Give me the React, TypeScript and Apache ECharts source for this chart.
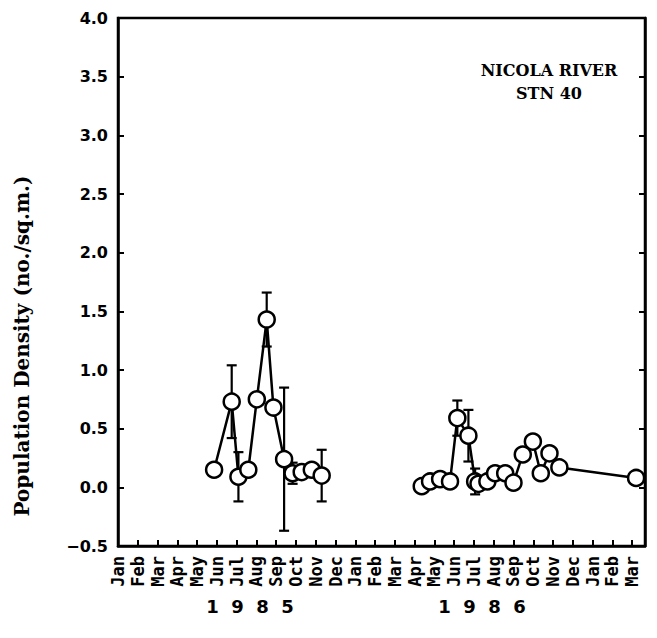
import React, { useEffect, useRef } from "react";
import * as echarts from "echarts";

// Month tick labels (index 0 = Jan 1985)
const monthLabels = [
  "Jan", "Feb", "Mar", "Apr", "May", "Jun", "Jul", "Aug", "Sep", "Oct", "Nov", "Dec",
  "Jan", "Feb", "Mar", "Apr", "May", "Jun", "Jul", "Aug", "Sep", "Oct", "Nov", "Dec",
  "Jan", "Feb", "Mar",
];
const yearLabels = ["1  9  8  5", "1  9  8  6"];
const yAxisTitle = "Population Density (no./sq.m.)";
const stationLines = ["NICOLA RIVER", "STN 40"];

// 1985 samples (x in months since Jan 1985)
const x1985 = [4.86, 5.75, 6.09, 6.59, 7.02, 7.52, 7.86, 8.4, 8.83, 9.29, 9.8, 10.3];
const y1985 = [0.15, 0.73, 0.09, 0.15, 0.75, 1.43, 0.68, 0.24, 0.12, 0.13, 0.15, 0.1];
const e1985 = [0, 0.31, 0.21, 0, 0, 0.23, 0, 0.61, 0.09, 0, 0, 0.22];

// 1986-87 samples
const x1986 = [15.36, 15.78, 16.29, 16.79, 17.16, 17.72, 18.06, 18.23, 18.68, 19.07, 19.58, 20.0, 20.47, 20.98, 21.38, 21.82, 22.32, 26.2];
const y1986 = [0.01, 0.05, 0.07, 0.05, 0.59, 0.44, 0.05, 0.03, 0.05, 0.12, 0.12, 0.04, 0.28, 0.39, 0.12, 0.29, 0.17, 0.08];
const e1986 = [0, 0, 0, 0, 0.15, 0.22, 0.11, 0, 0, 0, 0, 0, 0, 0, 0, 0, 0, 0];

const FONT = "DejaVu Sans";
const MONO = "DejaVu Sans Mono";
const SERIF = "DejaVu Serif";

function pairs(xs: number[], ys: number[]) {
  return xs.map((x, i) => [x, ys[i]]);
}
function errs(xs: number[], ys: number[], es: number[]) {
  const out: number[][] = [];
  xs.forEach((x, i) => {
    if (es[i] > 0) out.push([x, ys[i] - es[i], ys[i] + es[i]]);
  });
  return out;
}

export default function App() {
  const ref = useRef<HTMLDivElement>(null);
  useEffect(() => {
    const chart = echarts.init(ref.current!, null, { renderer: "svg" });
    const lineSeries = (data: number[][]) => ({
      type: "line",
      data,
      symbol: "circle",
      symbolSize: 16,
      showSymbol: true,
      lineStyle: { color: "#000", width: 2.5 },
      itemStyle: { color: "#fff", borderColor: "#000", borderWidth: 2.5 },
      z: 3,
    });
    const errSeries = (data: number[][]) => ({
      type: "custom",
      data,
      z: 2,
      renderItem: (params: any, api: any) => {
        const x = api.value(0);
        const lo = api.coord([x, api.value(1)]);
        const hi = api.coord([x, api.value(2)]);
        const cap = 5;
        const style = { stroke: "#000", lineWidth: 2.2 };
        return {
          type: "group",
          children: [
            { type: "line", shape: { x1: lo[0], y1: lo[1], x2: hi[0], y2: hi[1] }, style },
            { type: "line", shape: { x1: lo[0] - cap, y1: lo[1], x2: lo[0] + cap, y2: lo[1] }, style },
            { type: "line", shape: { x1: hi[0] - cap, y1: hi[1], x2: hi[0] + cap, y2: hi[1] }, style },
          ],
        };
      },
    });
    chart.setOption({
      animation: false,
      backgroundColor: "#fff",
      grid: {
        left: 118,
        top: 18,
        right: 12,
        bottom: 92,
        show: true,
        borderColor: "#000",
        borderWidth: 2.5,
      },
      xAxis: {
        type: "value",
        min: 0,
        max: 26.65,
        interval: 1,
        splitLine: { show: false },
        axisLine: { show: true, onZero: false, lineStyle: { color: "#000", width: 2.5 } },
        axisTick: { show: true, inside: true, length: 6, lineStyle: { color: "#000", width: 2 } },
        axisLabel: {
          rotate: 90,
          margin: 10,
          color: "#000",
          fontFamily: MONO,
          fontWeight: "bold",
          fontSize: 17,
          formatter: (v: number) => {
            const i = Math.round(v);
            return Math.abs(v - i) < 1e-6 && monthLabels[i] ? monthLabels[i] : "";
          },
        },
      },
      yAxis: [
        {
          type: "value",
          min: -0.5,
          max: 4.0,
          interval: 0.5,
          splitLine: { show: false },
          axisLine: { show: true, lineStyle: { color: "#000", width: 2.5 } },
          axisTick: { show: true, inside: true, length: 6, lineStyle: { color: "#000", width: 2 } },
          axisLabel: {
            margin: 10,
            color: "#000",
            fontFamily: FONT,
            fontWeight: "bold",
            fontSize: 16,
            formatter: (v: number) => (v < 0 ? "\u2212" + Math.abs(v).toFixed(1) : v.toFixed(1)),
          },
        },
        {
          type: "value",
          position: "right",
          min: -0.5,
          max: 4.0,
          interval: 0.5,
          splitLine: { show: false },
          axisLine: { show: true, lineStyle: { color: "#000", width: 2.5 } },
          axisTick: { show: true, inside: true, length: 6, lineStyle: { color: "#000", width: 2 } },
          axisLabel: { show: false },
        },
      ],
      graphic: [
        {
          type: "text",
          x: 22,
          y: 346,
          rotation: Math.PI / 2,
          style: { text: yAxisTitle, fill: "#000", font: `bold 20px "${SERIF}"`, textAlign: "center", textVerticalAlign: "middle" },
        },
        {
          type: "text",
          x: 549,
          y: 70,
          style: { text: stationLines[0], fill: "#000", font: `bold 16px "${SERIF}"`, textAlign: "center", textVerticalAlign: "middle" },
        },
        {
          type: "text",
          x: 549,
          y: 93,
          style: { text: stationLines[1], fill: "#000", font: `bold 16px "${SERIF}"`, textAlign: "center", textVerticalAlign: "middle" },
        },
        {
          type: "text",
          x: 250,
          y: 606,
          style: { text: yearLabels[0], fill: "#000", font: `bold 18px "${FONT}"`, textAlign: "center", textVerticalAlign: "middle" },
        },
        {
          type: "text",
          x: 482,
          y: 606,
          style: { text: yearLabels[1], fill: "#000", font: `bold 18px "${FONT}"`, textAlign: "center", textVerticalAlign: "middle" },
        },
      ],
      series: [
        errSeries(errs(x1985, y1985, e1985)),
        errSeries(errs(x1986, y1986, e1986)),
        lineSeries(pairs(x1985, y1985)),
        lineSeries(pairs(x1986, y1986)),
      ],
    });
    return () => chart.dispose();
  }, []);
  return (
    <div
      ref={ref}
      style={{ position: "absolute", left: 0, top: 0, width: 657, height: 638, background: "#fff" }}
    />
  );
}
